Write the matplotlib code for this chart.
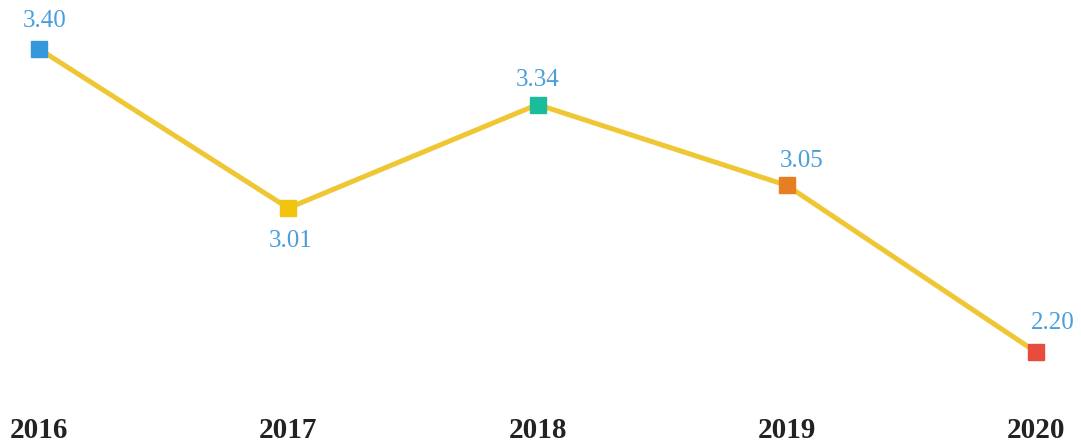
import matplotlib
matplotlib.use('Agg')
import matplotlib.pyplot as plt

# Data
years = ['2016', '2017', '2018', '2019', '2020']
# labels printed next to each point
value_labels = ['3.40', '3.01', '3.34', '3.05', '2.20']
# vertical positions of the points as drawn in the picture
plot_values = [3.40, 2.77, 3.18, 2.86, 2.20]
marker_colors = ['#3498DB', '#F1C40F', '#1ABC9C', '#E67E22', '#E74C3C']

line_color = '#EFC633'
label_color = '#4A9FDB'
# label offsets in pixels (dx, dy) relative to the point
label_offsets = [(6, 28), (2, -33), (0, 25), (15, 24), (17, 29)]

W, H, DPI = 1081, 443, 100
fig = plt.figure(figsize=(W / DPI, H / DPI), dpi=DPI)

bottom_px = 400
ax = fig.add_axes([0, (H - bottom_px) / H, 1, bottom_px / H])

x = list(range(len(years)))
ax.plot(x, plot_values, color=line_color, linewidth=3.6, zorder=2,
        solid_capstyle='butt')
for xi, yi, c in zip(x, plot_values, marker_colors):
    ax.plot(xi, yi, marker='s', markersize=11, color=c, linestyle='none', zorder=3)

for xi, yi, lab, (dx, dy) in zip(x, plot_values, value_labels, label_offsets):
    ax.annotate(lab, (xi, yi), xytext=(dx * 72 / DPI, dy * 72 / DPI),
                textcoords='offset points', ha='center', va='center',
                fontsize=18, color=label_color, family='Liberation Serif')

# axis scaling so points land at the reference pixel positions
px_x = (1036 - 39) / 4
ax.set_xlim(-39 / px_x, 4 + (W - 1036) / px_x)
px_y = (352 - 49) / (3.40 - 2.20)
ax.set_ylim(3.40 - (bottom_px - 49) / px_y, 3.40 + 49 / px_y)

ax.set_xticks(x)
ax.set_xticklabels(years, fontsize=21, fontweight='bold',
                   family='Liberation Serif', color='#222222')
ax.tick_params(axis='x', length=0, pad=12)
ax.set_yticks([])
for s in ax.spines.values():
    s.set_visible(False)

fig.savefig('out.png', dpi=DPI, facecolor='white')
